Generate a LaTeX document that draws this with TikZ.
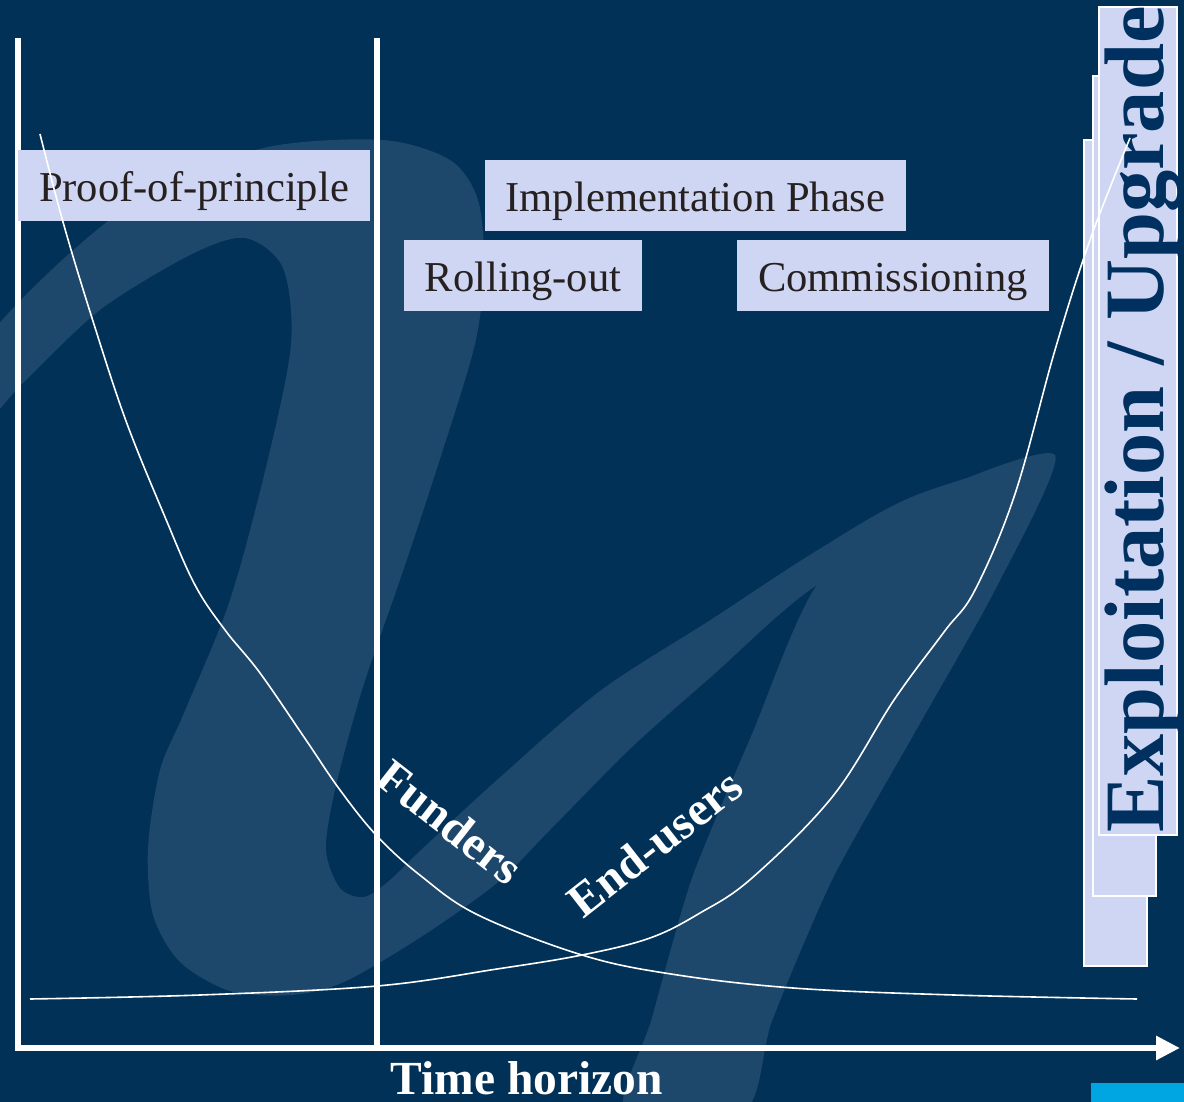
\documentclass[tikz,border=0pt]{standalone}
\usepackage{fontspec}
\setmainfont{Liberation Serif}
\usetikzlibrary{arrows.meta}
\newlength{\du}
\setlength{\du}{1pt}

\begin{document}
\begin{tikzpicture}[x=\du,y=-\du,
  axisline/.style={draw=white,line width=6.5\du},
  trend/.style={draw=white,line width=1.6\du},
  phasebox/.style={fill=boxfill,text=boxtext,inner xsep=21\du,inner ysep=0pt,
    minimum height=71\du,text height=34\du,text depth=2\du,
    font=\fontsize{42.6}{50}\selectfont},
  stackbox/.style={fill=boxfill,draw=white,line width=1.5\du},
  curvelabel/.style={text=white,inner sep=0pt,font=\fontsize{47.5}{55}\selectfont\bfseries}]
\definecolor{bgnavy}{RGB}{1,49,87}
\definecolor{wmark}{RGB}{29,71,107}
\definecolor{boxfill}{RGB}{206,214,244}
\definecolor{boxtext}{RGB}{38,32,32}
\definecolor{exptext}{RGB}{0,48,96}
\definecolor{cornerblue}{RGB}{0,166,226}
\useasboundingbox (0,0) rectangle (1184,1102);
\fill[bgnavy] (0,0) rectangle (1184,1102);
% watermark letter
\fill[wmark] plot[smooth cycle,tension=0.5] coordinates {
  (-20,350) (60,262) (153,190) (268,147) (383,140) (450,160) (478,200)
  (484,268) (475,344) (440,459) (402,574) (362,690) (335,790) (326,850)
  (340,888) (364,897) (390,880) (421,850) (497,780) (600,691) (712,619)
  (813,553) (914,496) (1055,455) (960,510) (817,585) (712,676) (631,748)
  (550,830) (497,883) (421,937) (344,982) (291,995) (230,991) (180,962)
  (153,915) (148,848) (160,770) (184,713) (230,600) (268,459) (291,344)
  (283,268) (245,238) (190,255) (100,310) (23,383) (-20,425)};
\fill[wmark] plot[smooth cycle,tension=0.4] coordinates {
  (1055,455) (995,590) (914,734) (833,878) (772,1021) (745,1110)
  (625,1110) (651,1021) (692,878) (752,734) (817,585) (930,495)};
\fill[cornerblue] (1091,1083) rectangle (1184,1102);
% axes
\coordinate (lefttop) at (18,38);
\coordinate (leftfoot) at (18,1051);
\coordinate (divtop) at (377,38);
\coordinate (divfoot) at (377,1048);
\coordinate (origin) at (15,1048);
\coordinate (tend) at (1180,1048);
\draw[axisline] (leftfoot) -- (lefttop);
\draw[axisline] (divfoot) -- (divtop);
\draw[axisline,-{Triangle[length=24pt,width=23pt]}] (origin) -- (tend);
% phases
\node[phasebox] (proof) at (194,186) {Proof-of-principle};
\node[phasebox] (impl) at (695.5,195.5) {Implementation Phase};
\node[phasebox] (rollout) at (523,275.5) {Rolling-out};
\node[phasebox] (commission) at (893,275.5) {Commissioning};
\filldraw[stackbox] (1084,140) rectangle (1147,966);
\filldraw[stackbox] (1093,76) rectangle (1156,896);
\filldraw[stackbox] (1099,7) rectangle (1177,835);
\node[rotate=90,anchor=base west,inner sep=0pt,text=exptext,
  font=\fontsize{84.5}{90}\selectfont\bfseries] (exploit) at (1163,833) {Exploitation / Upgrade};
% curves
\draw[trend] plot[smooth,tension=0.6] coordinates {
  (40,134) (63,222) (92,318) (126,421) (165,517) (195,585) (225,630)
  (260,673) (306,740) (340,790) (377,836) (421,876) (478,915) (582,955)
  (671,974) (793,988) (954,995) (1137,999)};
\draw[trend] plot[smooth,tension=0.6] coordinates {
  (30,999) (200,995) (377,986) (497,969) (582,955) (650,938) (700,913)
  (752,878) (833,796) (894,700) (944,632) (975,590) (1015,494) (1055,350)
  (1090,240) (1130,138)};
\node[curvelabel,rotate=-38] (funders) at (450,822) {Funders};
\node[curvelabel,rotate=38] (endusers) at (655,843) {End-users};
\node[curvelabel,anchor=base] (horizon) at (527,1094) {Time horizon};
\end{tikzpicture}
\end{document}
